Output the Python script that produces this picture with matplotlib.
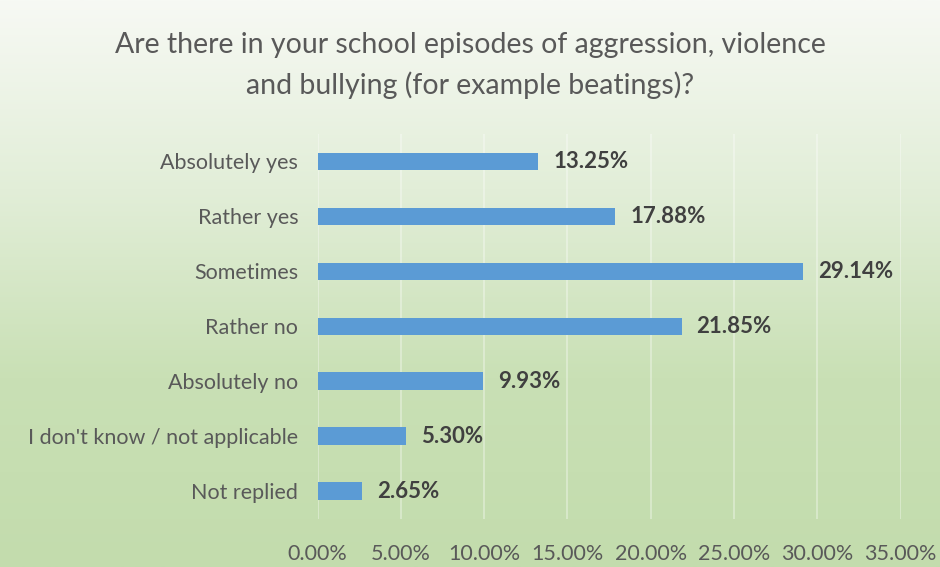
import numpy as np
import matplotlib.pyplot as plt
from matplotlib.colors import LinearSegmentedColormap
from matplotlib.ticker import FuncFormatter

categories = ['Absolutely yes', 'Rather yes', 'Sometimes', 'Rather no',
              'Absolutely no', "I don't know / not applicable", 'Not replied']
values = [13.25, 17.88, 29.14, 21.85, 9.93, 5.30, 2.65]
xticks = [0, 5, 10, 15, 20, 25, 30, 35]

plt.rcParams['font.family'] = ['Lato', 'DejaVu Sans']

fig = plt.figure(figsize=(9.4, 5.67), dpi=100)

# gradient background, white-ish at top to light green at bottom
bg = fig.add_axes([0, 0, 1, 1], zorder=-10)
grad = np.linspace(0, 1, 256).reshape(-1, 1)
cmap = LinearSegmentedColormap.from_list('bg', ['#f7f9f4', '#e2eed8', '#c9e0b5', '#c3dcad'])
bg.imshow(grad, aspect='auto', cmap=cmap, extent=[0, 1, 0, 1], origin='upper')
bg.axis('off')

ax = fig.add_axes([0.338, 0.0855, 0.62, 0.679])
ax.set_facecolor('none')
y = np.arange(len(categories))
ax.barh(y, values, height=0.31, color='#5b9bd5', zorder=3)
ax.set_ylim(len(categories) - 0.5, -0.5)
ax.set_xlim(0, 35)
ax.set_yticks(y)
ax.set_yticklabels(categories, fontsize=15.5, color='#595959')
ax.set_xticks(xticks)
ax.xaxis.set_major_formatter(FuncFormatter(lambda v, p: f'{v:.2f}%'))
ax.tick_params(axis='x', labelsize=15.5, labelcolor='#595959', length=0, pad=18)
ax.tick_params(axis='y', length=0, pad=14)
for s in ax.spines.values():
    s.set_visible(False)
ax.grid(axis='x', color='#ffffff', alpha=0.4, lw=1.2, zorder=0)

for yi, v in zip(y, values):
    ax.text(v + 0.9, yi, f'{v:.2f}%', va='center', ha='left', fontsize=16,
            fontweight='bold', color='#404040', zorder=4)

fig.text(0.5, 0.92, 'Are there in your school episodes of aggression, violence',
         ha='center', va='center', fontsize=20.5, color='#595959')
fig.text(0.5, 0.85, 'and bullying (for example beatings)?',
         ha='center', va='center', fontsize=20.5, color='#595959')

fig.savefig('out.png', dpi=100)
